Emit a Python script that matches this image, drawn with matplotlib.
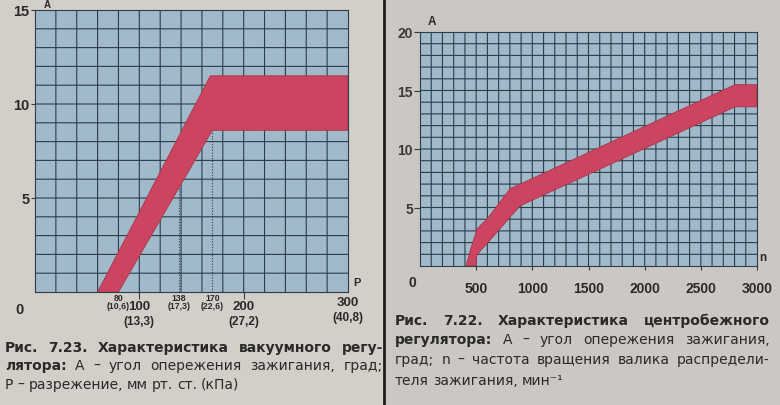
import numpy as np
import matplotlib
matplotlib.use("Agg")
import matplotlib.pyplot as plt
from matplotlib.patches import Rectangle

plt.rcParams['font.family'] = ['Liberation Sans', 'DejaVu Sans']

W, H = 780, 406

# --- vacuum regulator (Рис. 7.23) ---
vac_p_upper = [60, 168, 300]
vac_a_upper = [0, 11.5, 11.5]
vac_p_lower = [80, 170, 300]
vac_a_lower = [0, 8.6, 8.6]
vac_yticks = [5, 10, 15]
vac_marks = [80, 138, 170]            # small labels with dotted lines
vac_marks_kpa = ["(10,6)", "(17,3)", "(22,6)"]
vac_main = [100, 200, 300]
vac_main_kpa = ["(13,3)", "(27,2)", "(40,8)"]

# --- centrifugal regulator (Рис. 7.22) ---
cen_n_upper = [410, 451, 510, 596, 801, 2804, 3000]
cen_a_upper = [0, 1.45, 3.2, 4.0, 6.6, 15.5, 15.5]
cen_n_lower = [498, 507, 893, 2804, 3000]
cen_a_lower = [0, 0.95, 5.15, 13.6, 13.6]
cen_yticks = [5, 10, 15, 20]
cen_xticks = [500, 1000, 1500, 2000, 2500, 3000]

caption_left = [
    [("Рис. 7.23. Характеристика вакуумного регу-", True)],
    [("лятора:", True), ("А – угол опережения зажигания, град;", False)],
    [("Р – разрежение, мм рт. ст. (кПа)", False)],
]
caption_right = [
    [("Рис. 7.22. Характеристика центробежного", True)],
    [("регулятора:", True), ("А – угол опережения зажигания,", False)],
    [("град; n – частота вращения валика распредели-", False)],
    [("теля зажигания, мин⁻¹", False)],
]

GRID_BG = "#a0bacb"
GRID_LINE = "#2e3d48"
BAND = "#cb4560"
TXT = "#2a2a2a"

fig = plt.figure(figsize=(W / 100, H / 100), dpi=100)
fig.patch.set_facecolor("#cbc7c2")
fig.patches.append(Rectangle((0, 0), 384 / W, 1, transform=fig.transFigure,
                             facecolor="#d3cec8", edgecolor="none", zorder=-5))
fig.add_artist(plt.Line2D([384 / W, 384 / W], [0, 1], transform=fig.transFigure,
                          color="#1e1e1e", lw=2, zorder=-4))


def px_axes(x0, y0, x1, y1):
    # pixel box (top-left origin) -> figure axes
    return fig.add_axes([x0 / W, 1 - y1 / H, (x1 - x0) / W, (y1 - y0) / H])


def style_grid(ax, xmax, ymax, xstep, ystep):
    ax.set_facecolor(GRID_BG)
    ax.set_xlim(0, xmax)
    ax.set_ylim(0, ymax)
    for x in np.arange(xstep, xmax, xstep):
        ax.axvline(x, color=GRID_LINE, lw=0.8, snap=False, zorder=1)
    for y in np.arange(ystep, ymax, ystep):
        ax.axhline(y, color=GRID_LINE, lw=0.8, snap=False, zorder=1)
    for s in ax.spines.values():
        s.set_color(GRID_LINE)
        s.set_linewidth(0.8)


def band(ax, xu, yu, xl, yl):
    xs = np.concatenate([xu, xl[::-1]])
    ys = np.concatenate([yu, yl[::-1]])
    ax.fill(xs, ys, color=BAND, ec="#a8364a", lw=0.6, zorder=3)


# left chart
ax1 = px_axes(35, 11, 348, 293)
style_grid(ax1, 300, 15, 20, 1)
band(ax1, vac_p_upper, vac_a_upper, vac_p_lower, vac_a_lower)
ax1.set_yticks(vac_yticks)
ax1.set_yticklabels([str(v) for v in vac_yticks], fontsize=10.5, fontweight="bold", color=TXT)
ax1.set_xticks([100, 200])
ax1.set_xticklabels([])
ax1.tick_params(axis="x", length=5, color=GRID_LINE, direction="out")
ax1.tick_params(axis="y", length=3, color=GRID_LINE, pad=1)
for p in vac_marks[1:]:
    top = np.interp(p, vac_p_lower, vac_a_lower)
    ax1.plot([p, p], [0, top], ls=(0, (1, 1.5)), color=GRID_LINE, lw=0.8, zorder=2)
xt = ax1.get_xaxis_transform()
for p, k in zip(vac_marks, vac_marks_kpa):
    ax1.annotate(str(p), (p, 0), xycoords=xt, xytext=(0, -6), textcoords="offset pixels",
                 ha="center", va="center", fontsize=6.3, fontweight="bold", color=TXT)
    ax1.annotate(k, (p, 0), xycoords=xt, xytext=(0, -14), textcoords="offset pixels",
                 ha="center", va="center", fontsize=6.3, fontweight="bold", color=TXT)
for p, k in zip(vac_main, vac_main_kpa):
    dy = -10 if p == 300 else -14
    ax1.annotate(str(p), (p, 0), xycoords=xt, xytext=(0, dy), textcoords="offset pixels",
                 ha="center", va="center", fontsize=9.5, fontweight="bold", color=TXT)
    ax1.annotate(k, (p, 0), xycoords=xt, xytext=(0, dy - 15), textcoords="offset pixels",
                 ha="center", va="center", fontsize=8.5, fontweight="bold", color=TXT)
ax1.text(-15 / 313 * 300, -17 / 282 * 15, "0", ha="center", va="center",
         fontsize=10.5, fontweight="bold", color=TXT, clip_on=False)
ax1.text(12 / 313 * 300, 15.3, "A", ha="center", va="center",
         fontsize=7, fontweight="bold", color=TXT, clip_on=False)
ax1.text(309, 0.55, "P", ha="center", va="center",
         fontsize=8, fontweight="bold", color=TXT, clip_on=False)

# right chart
ax2 = px_axes(420, 33, 757, 267)
style_grid(ax2, 3000, 20, 100, 1)
band(ax2, cen_n_upper, cen_a_upper, cen_n_lower, cen_a_lower)
ax2.set_yticks(cen_yticks)
ax2.set_yticklabels([str(v) for v in cen_yticks], fontsize=10, fontweight="bold", color="#3a3a3a")
ax2.set_xticks(cen_xticks)
ax2.set_xticklabels([str(v) for v in cen_xticks], fontsize=10, fontweight="bold", color=TXT)
ax2.tick_params(axis="x", length=3, color=GRID_LINE, pad=8)
ax2.tick_params(axis="y", length=4, color=GRID_LINE, pad=1)
ax2.text(-8 / 337 * 3000, -16 / 234 * 20, "0", ha="center", va="center",
         fontsize=10, fontweight="bold", color=TXT, clip_on=False)
ax2.text(12 / 337 * 3000, 20.9, "A", ha="center", va="center",
         fontsize=8.5, fontweight="bold", color=TXT, clip_on=False)
ax2.text(3050, 0.8, "n", ha="center", va="center",
         fontsize=8.5, fontweight="bold", color=TXT, clip_on=False)


def caption(lines, x0, x1, ys, size=10):
    renderer = fig.canvas.get_renderer()
    fam = ['DejaVu Sans']
    for i, (line, y) in enumerate(zip(lines, ys)):
        words = []
        for chunk, bold in line:
            words += [(w, bold) for w in chunk.split(" ")]
        texts = [fig.text(0, 1 - y / H, w, fontsize=size, color=TXT, va="center", family=fam,
                          fontweight="bold" if b else "normal") for w, b in words]
        widths = [t.get_window_extent(renderer).width for t in texts]
        last = i == len(lines) - 1
        if last or len(words) == 1:
            gap = size * 0.4
        else:
            gap = (x1 - x0 - sum(widths)) / (len(words) - 1)
        x = x0
        for t, w in zip(texts, widths):
            t.set_x(x / W)
            x += w + gap


caption(caption_left, 5, 383, [348, 366, 385])
caption(caption_right, 395, 770, [321, 340, 360, 381])

fig.savefig("out.png", dpi=100, facecolor=fig.get_facecolor())
